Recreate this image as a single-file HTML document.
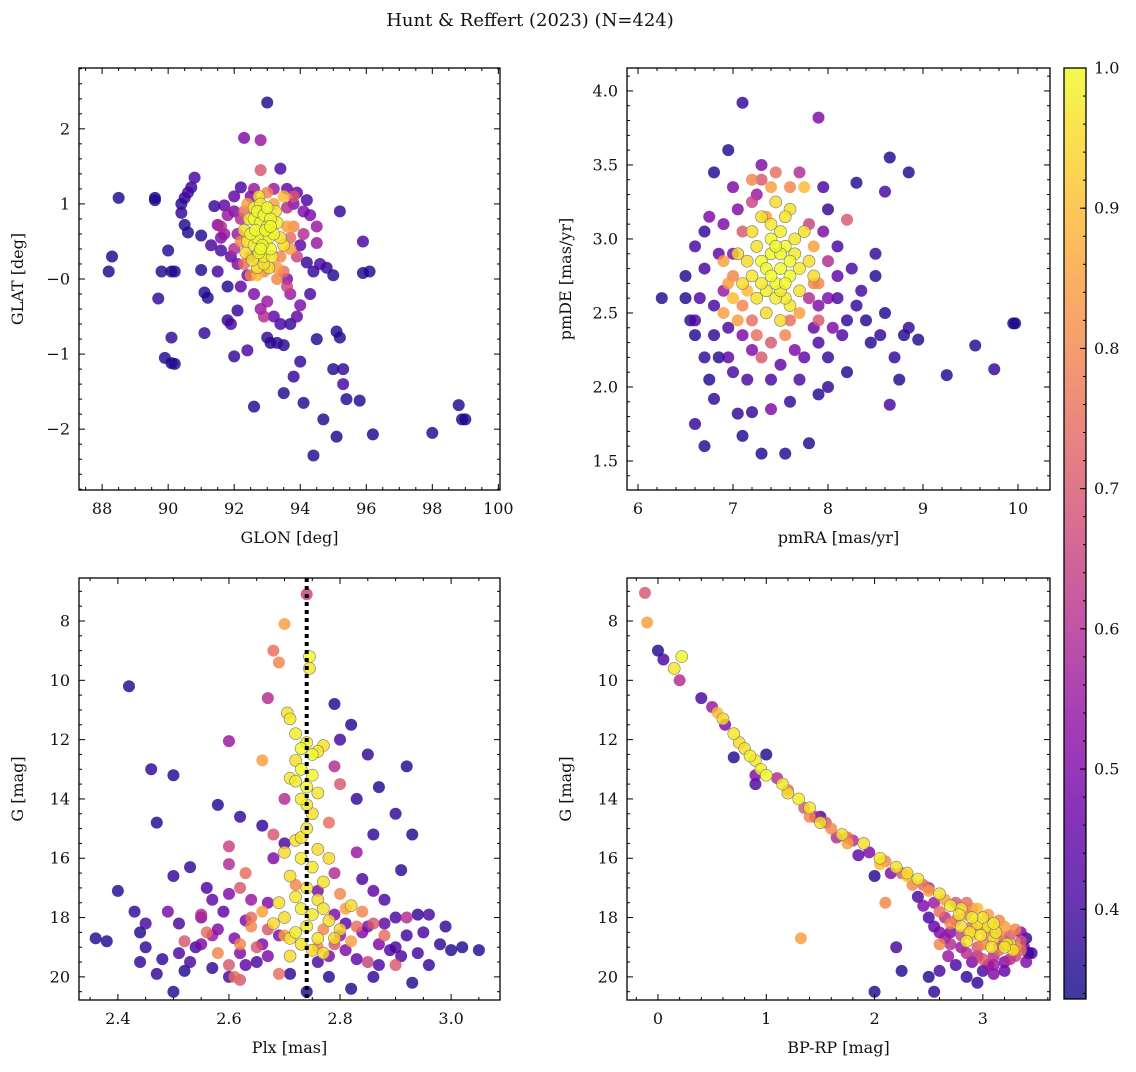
<!DOCTYPE html>
<html><head><meta charset="utf-8"><style>
body{margin:0;background:#fff}
svg text{font-family:"DejaVu Serif","Liberation Serif",serif;fill:#111}
</style></head><body>
<svg id="fig" width="1136" height="1067" viewBox="0 0 1136 1067" xmlns="http://www.w3.org/2000/svg">
<defs><linearGradient id="cbg" x1="0" y1="1" x2="0" y2="0">
<stop offset="0" stop-color="#0d0887"/><stop offset="0.1" stop-color="#41049d"/><stop offset="0.2" stop-color="#6a00a8"/><stop offset="0.3" stop-color="#8f0da4"/><stop offset="0.4" stop-color="#b12a90"/><stop offset="0.5" stop-color="#cc4778"/><stop offset="0.6" stop-color="#e16462"/><stop offset="0.7" stop-color="#f2844b"/><stop offset="0.8" stop-color="#fca636"/><stop offset="0.9" stop-color="#fcce25"/><stop offset="1" stop-color="#f0f921"/>
</linearGradient></defs>
<text x="530" y="26" font-size="18" text-anchor="middle">Hunt &amp; Reffert (2023) (N=424)</text>
</svg>
<script>
// ---- data (value triples: x, y, membership probability) ----
const glonGlat = [
[88.2,0.1,0.35],[88.3,0.3,0.35],[88.5,1.08,0.35],[89.6,1.08,0.35],[89.6,1.05,0.36],[89.7,-0.26,0.38],[89.8,0.1,0.36],[89.9,-1.05,0.36],[90.1,-1.12,0.35],[90.2,-1.13,0.36],[90.1,-0.78,0.38],[90.0,0.38,0.36],[90.1,0.1,0.35],[90.2,0.1,0.36],[90.4,0.88,0.38],[90.4,1.0,0.36],[90.5,1.08,0.38],[90.6,1.15,0.41],[90.5,0.72,0.36],[90.6,0.62,0.36],[90.7,1.22,0.38],[90.8,1.35,0.41],[91.0,0.58,0.36],[91.0,0.12,0.36],[91.1,-0.72,0.38],[91.1,-0.18,0.36],[91.2,-0.25,0.36],[91.3,0.45,0.41],[91.4,0.97,0.38],[91.5,0.72,0.5],[91.6,0.55,0.5],[91.6,0.38,0.41],[91.7,0.98,0.45],[91.8,-0.1,0.36],[91.8,-0.55,0.38],[91.9,-0.6,0.41],[92.0,-1.03,0.38],[92.1,-0.42,0.38],[92.1,0.2,0.5],[92.2,1.22,0.41],[92.3,1.88,0.5],[92.4,-0.95,0.41],[92.6,-1.7,0.36],[92.8,1.85,0.55],[93.0,2.35,0.36],[93.4,1.47,0.41],[93.6,1.2,0.45],[93.8,1.0,0.5],[94.2,1.05,0.41],[94.3,0.85,0.5],[94.5,0.48,0.55],[94.2,0.22,0.38],[94.4,0.1,0.38],[94.6,0.2,0.41],[94.8,0.15,0.38],[95.0,0.05,0.36],[95.2,0.9,0.38],[95.9,0.5,0.41],[95.9,0.08,0.36],[96.1,0.1,0.36],[93.0,-0.78,0.38],[93.1,-0.85,0.36],[93.3,-0.85,0.38],[93.5,-0.88,0.36],[93.4,-0.6,0.41],[93.7,-0.6,0.38],[93.8,-1.3,0.38],[93.5,-1.52,0.36],[94.0,-1.1,0.38],[94.1,-1.65,0.36],[94.5,-0.8,0.36],[94.4,-2.35,0.36],[94.7,-1.87,0.36],[95.1,-2.1,0.35],[95.1,-0.7,0.36],[95.2,-0.78,0.36],[95.0,-1.2,0.36],[95.3,-1.2,0.38],[95.3,-1.4,0.41],[95.4,-1.6,0.36],[95.8,-1.62,0.36],[96.2,-2.07,0.35],[98.0,-2.05,0.36],[98.8,-1.68,0.36],[98.9,-1.87,0.35],[99.0,-1.87,0.35],[94.0,-0.35,0.5],[93.7,-0.2,0.55],[92.4,0.05,0.5],[94.3,-0.2,0.41],[92.8,-0.4,0.55],
[91.9,0.3,0.45],[92.0,0.9,0.5],[91.7,0.6,0.55],[92.5,1.1,0.5],[93.9,1.15,0.45],[94.0,0.45,0.45],[93.6,0.0,0.5],[92.6,-0.2,0.5],[93.2,-0.5,0.45],[94.1,0.9,0.5],[92.2,-0.1,0.45],[91.5,0.1,0.4],[93.9,-0.5,0.45],[92.0,1.1,0.45],
[92.2,0.8,0.6],[92.6,1.2,0.55],[92.8,1.45,0.7],[93.6,0.95,0.6],[92.5,0.3,0.7],[93.9,0.3,0.65],[93.8,0.7,0.8],[92.1,0.6,0.55],[94.1,0.6,0.6],[93.2,1.2,0.55],[92.9,0.1,0.8],[93.5,0.1,0.75],[93.0,-0.3,0.55],[92.9,-0.5,0.6],[92.3,0.9,0.75],[93.7,0.4,0.85],[92.7,0.05,0.9],[93.3,0.0,0.8],[92.0,0.4,0.6],[94.5,0.7,0.55],[93.6,-0.1,0.65],[91.6,0.7,0.6],[91.8,0.85,0.55],[92.4,1.0,0.85],[93.5,1.1,0.9],[93.4,0.3,0.8],[92.3,0.2,0.75],[93.8,1.1,0.7],[93.2,1.0,0.85],[93.6,0.7,0.85],[92.2,0.5,0.8],[93.3,0.15,0.85],[92.5,0.05,0.8],[93.0,1.15,0.8],[93.7,0.55,0.75],
[92.6,0.8,1],[92.7,0.9,1],[92.8,0.75,1],[92.9,0.85,1],[93.0,0.7,1],[93.1,0.8,1],[92.85,0.6,1],[92.95,0.5,1],[93.05,0.55,1],[92.7,0.55,1],[92.6,0.45,0.98],[92.75,0.35,1],[92.9,0.3,0.97],[93.1,0.4,1],[93.2,0.6,1],[93.3,0.75,0.98],[92.5,0.6,1],[92.4,0.5,0.97],[92.55,0.25,0.96],[92.7,0.15,0.95],[92.85,0.45,1],[93.0,0.95,1],[92.8,1.0,0.98],[92.65,0.65,1],[93.15,0.3,0.97],[93.4,0.55,0.96],[92.45,0.8,0.97],[92.35,0.35,0.95],[92.9,0.2,0.96],[93.05,0.15,0.95],[92.6,0.95,0.97],[93.25,0.9,0.96],[92.75,1.1,0.95],[93.5,0.45,0.95],[92.3,0.65,0.96],[92.95,0.65,1],[92.8,0.4,1],[93.1,0.7,1]];
const pmraPmde = [
[6.25,2.6,0.36],[6.5,2.6,0.36],[6.6,1.75,0.38],[6.7,1.6,0.36],[6.6,2.35,0.36],[6.7,2.2,0.38],[6.75,2.05,0.36],[6.8,1.92,0.38],[6.5,2.75,0.36],[6.6,2.95,0.41],[6.7,3.05,0.38],[6.75,3.15,0.5],[6.8,2.55,0.41],[6.85,2.2,0.36],[6.8,3.45,0.36],[6.95,3.6,0.36],[7.1,3.92,0.38],[7.0,3.35,0.5],[7.05,1.82,0.38],[7.1,1.67,0.36],[7.15,2.05,0.41],[7.2,1.83,0.38],[7.3,1.55,0.36],[7.4,1.85,0.5],[7.55,1.55,0.36],[7.8,1.62,0.36],[7.7,2.05,0.41],[7.6,1.9,0.38],[7.9,1.95,0.36],[7.9,2.3,0.41],[8.0,2.2,0.38],[8.05,2.4,0.5],[8.1,2.6,0.41],[8.2,2.45,0.38],[8.2,2.1,0.36],[8.3,2.55,0.38],[8.3,3.38,0.36],[8.45,2.3,0.36],[8.5,2.9,0.38],[8.5,2.75,0.36],[8.6,2.5,0.36],[8.6,3.32,0.41],[8.65,3.55,0.36],[8.7,2.2,0.38],[8.75,2.05,0.36],[8.65,1.88,0.41],[8.8,2.35,0.36],[8.85,2.4,0.38],[8.85,3.45,0.36],[8.95,2.32,0.36],[9.25,2.08,0.36],[9.55,2.28,0.36],[9.75,2.12,0.38],[9.95,2.43,0.35],[9.97,2.43,0.35],[7.9,3.82,0.5],[7.95,3.35,0.41],[8.0,3.2,0.38],[8.1,2.95,0.41],[7.9,2.55,0.5],[7.0,2.1,0.41],[7.2,2.25,0.5],[7.4,2.05,0.41],[8.4,2.45,0.36],[8.55,2.35,0.38],[6.6,2.45,0.41],[6.9,2.65,0.55],[7.0,2.9,0.5],[6.95,2.4,0.41],[7.65,2.25,0.5],[7.25,3.3,0.55],[6.7,2.8,0.41],[6.55,2.45,0.38],[7.05,3.2,0.5],[8.25,2.8,0.41],[6.8,2.35,0.38],[8.0,2.0,0.38],
[6.85,2.9,0.45],[6.9,3.1,0.5],[7.1,2.35,0.5],[7.5,2.15,0.45],[7.85,2.4,0.45],[8.0,2.6,0.5],[8.1,2.75,0.45],[7.95,3.05,0.5],[7.3,3.5,0.5],[6.95,2.2,0.45],[8.35,2.65,0.4],[6.65,2.6,0.42],[7.75,2.2,0.45],[8.15,2.35,0.42],
[7.0,2.75,0.8],[7.1,3.05,0.7],[6.9,2.85,0.85],[7.2,2.45,0.75],[7.4,2.3,0.7],[7.6,2.45,0.75],[7.8,2.6,0.6],[7.85,2.7,0.8],[8.0,2.85,0.6],[7.3,3.4,0.7],[7.45,3.45,0.75],[7.2,3.25,0.65],[7.7,3.45,0.6],[7.55,2.35,0.8],[6.9,2.5,0.85],[7.3,2.2,0.7],[7.8,3.1,0.65],[8.2,3.13,0.7],[7.75,3.35,0.9],[7.0,2.6,0.9],[7.35,3.15,0.85],[7.1,2.55,0.8],[7.9,2.45,0.7],[7.6,3.35,0.8],[7.25,2.35,0.75],[7.05,2.45,0.85],[7.15,2.65,0.9],[7.85,2.95,0.85],[7.7,2.5,0.85],[7.4,3.35,0.85],[7.2,3.4,0.8],[6.95,2.7,0.85],[7.9,2.7,0.8],
[7.3,2.85,1],[7.4,2.9,1],[7.5,2.8,1],[7.6,2.75,1],[7.45,2.7,1],[7.35,2.65,0.98],[7.55,2.95,1],[7.65,2.9,0.97],[7.2,2.75,0.97],[7.25,2.95,0.96],[7.5,3.05,0.98],[7.4,3.1,0.97],[7.6,3.2,0.96],[7.45,3.25,0.95],[7.7,2.65,0.96],[7.55,2.6,0.98],[7.35,2.5,0.95],[7.25,2.6,0.96],[7.15,2.85,0.95],[7.1,2.7,0.95],[7.65,3.0,0.97],[7.8,2.85,0.96],[7.5,2.45,0.95],[7.4,3.0,1],[7.3,3.15,0.96],[7.55,2.7,1],[7.7,2.8,0.98],[7.6,2.55,0.97],[7.2,3.05,0.95],[7.75,3.05,0.96],[7.35,2.8,1],[7.45,2.6,0.98],[7.05,2.9,0.95],[7.85,2.75,0.95],[7.5,2.9,1],[7.4,2.75,1],[7.6,2.85,1],[7.3,2.7,0.98],[7.5,2.65,0.98],[7.45,2.95,1],[7.55,3.15,0.97]];
const plxG = [
[2.36,18.7,0.36],[2.4,17.1,0.36],[2.42,10.2,0.36],[2.43,17.8,0.38],[2.44,18.5,0.36],[2.45,19.0,0.38],[2.46,13.0,0.38],[2.47,14.8,0.36],[2.48,19.4,0.38],[2.49,17.8,0.5],[2.5,13.2,0.36],[2.5,16.6,0.38],[2.5,20.5,0.36],[2.51,18.2,0.41],[2.52,19.8,0.36],[2.53,16.3,0.38],[2.54,19.0,0.41],[2.55,18.0,0.5],[2.56,17.0,0.41],[2.57,19.7,0.38],[2.58,14.2,0.36],[2.58,18.4,0.5],[2.6,17.2,0.5],[2.6,20.0,0.41],[2.62,14.6,0.38],[2.63,18.1,0.5],[2.65,19.5,0.41],[2.66,14.9,0.38],[2.67,17.5,0.5],[2.7,15.5,0.41],[2.71,19.9,0.38],[2.76,19.5,0.41],[2.78,20.0,0.36],[2.79,10.8,0.36],[2.8,12.0,0.41],[2.81,19.1,0.5],[2.82,11.5,0.36],[2.82,20.4,0.36],[2.83,14.0,0.38],[2.84,16.7,0.41],[2.85,12.5,0.38],[2.86,15.2,0.38],[2.87,13.6,0.36],[2.88,17.4,0.41],[2.89,19.1,0.41],[2.9,14.5,0.38],[2.9,18.0,0.41],[2.91,16.4,0.38],[2.92,12.9,0.36],[2.93,15.2,0.36],[2.94,17.9,0.38],[2.95,18.5,0.41],[2.96,19.6,0.38],[2.98,18.9,0.38],[3.0,19.1,0.36],[3.02,19.0,0.36],[3.05,19.1,0.36],[2.93,20.2,0.36],[2.87,19.6,0.41],[2.74,20.5,0.36],[2.44,19.5,0.38],[2.38,18.8,0.36],[2.55,18.9,0.5],[2.47,19.9,0.38],[2.62,19.2,0.5],[2.85,18.3,0.5],[2.96,17.9,0.41],[2.76,17.1,0.5],[2.68,16.0,0.5],[2.91,19.3,0.41],[2.86,20.0,0.38],[2.53,19.5,0.41],[2.45,18.2,0.41],[2.57,18.6,0.55],[2.64,17.4,0.55],[2.8,18.6,0.55],[2.87,18.9,0.5],[2.99,18.3,0.38],
[2.59,17.8,0.45],[2.61,18.7,0.5],[2.63,19.6,0.45],[2.66,18.9,0.5],[2.79,17.9,0.5],[2.81,18.2,0.45],[2.83,19.4,0.45],[2.84,18.5,0.5],[2.88,18.2,0.45],[2.9,19.0,0.42],[2.92,18.6,0.4],[2.67,19.3,0.5],[2.57,17.4,0.45],[2.78,19.3,0.5],[2.69,18.6,0.5],[2.86,17.1,0.45],[2.51,19.2,0.42],[2.94,19.2,0.4],
[2.70,8.1,0.85],[2.69,9.4,0.8],[2.68,9.0,0.75],[2.74,7.1,0.65],[2.67,10.6,0.6],[2.66,12.7,0.85],[2.6,12.05,0.55],[2.6,15.6,0.65],[2.6,16.2,0.6],[2.62,17.0,0.7],[2.63,16.5,0.75],[2.64,18.3,0.8],[2.65,19.0,0.7],[2.6,19.6,0.7],[2.61,20.0,0.75],[2.62,20.1,0.7],[2.69,19.9,0.75],[2.7,14.0,0.6],[2.68,15.2,0.7],[2.78,14.8,0.75],[2.79,16.5,0.6],[2.8,17.2,0.8],[2.82,18.8,0.85],[2.84,17.8,0.8],[2.86,18.2,0.7],[2.85,19.5,0.65],[2.88,18.6,0.75],[2.9,19.6,0.7],[2.56,18.5,0.75],[2.58,19.2,0.8],[2.66,17.8,0.85],[2.8,13.5,0.7],[2.79,12.9,0.6],[2.83,15.8,0.55],[2.55,17.9,0.6],[2.52,18.8,0.7],[2.92,18.0,0.6],[2.77,18.4,0.8],[2.7,18.6,0.85],[2.72,16.9,0.8],[2.64,18.0,0.75],[2.67,18.4,0.7],[2.81,17.7,0.85],[2.83,18.3,0.75],[2.76,19.0,0.8],[2.62,18.9,0.8],[2.79,18.9,0.7],
[2.745,9.2,1],[2.745,9.6,0.97],[2.705,11.1,0.96],[2.71,11.3,0.97],[2.72,11.8,0.98],[2.73,12.3,1],[2.74,12.1,0.98],[2.75,12.5,1],[2.76,12.4,0.97],[2.72,12.7,0.96],[2.73,13.0,1],[2.75,13.2,1],[2.72,13.4,0.98],[2.74,13.6,1],[2.76,13.8,0.97],[2.73,14.0,0.98],[2.75,14.5,0.96],[2.74,15.0,0.97],[2.72,15.4,0.96],[2.76,15.7,0.95],[2.73,16.0,0.98],[2.75,16.3,0.97],[2.71,16.6,0.95],[2.77,16.8,0.96],[2.74,17.0,0.98],[2.72,17.3,0.97],[2.76,17.4,0.96],[2.73,17.7,0.98],[2.75,17.9,0.97],[2.70,18.0,0.95],[2.78,18.1,0.96],[2.74,18.3,0.98],[2.72,18.5,0.97],[2.76,18.7,0.96],[2.73,18.9,0.96],[2.75,19.1,0.95],[2.71,19.3,0.95],[2.77,19.2,0.95],[2.80,18.4,0.95],[2.68,18.2,0.95],[2.82,17.6,0.95],[2.69,17.5,0.96],[2.78,16.0,0.95],[2.70,15.8,0.95],[2.77,12.2,0.96],[2.71,13.3,0.97],[2.79,18.7,0.95],[2.77,17.7,0.96],[2.71,18.7,0.96],[2.74,14.2,0.97],[2.73,15.3,0.96]];
const bprpG = [
[-0.12,7.05,0.7],[-0.1,8.05,0.85],[0.0,9.0,0.36],[0.05,9.3,0.41],[0.15,9.6,0.97],[0.22,9.2,1],[0.2,10.0,0.6],[0.4,10.6,0.41],[0.55,11.1,0.9],[0.6,11.3,0.95],[0.62,11.5,0.5],[0.7,11.8,0.97],[0.75,12.1,0.95],[0.8,12.3,0.96],[0.85,12.55,0.98],[0.9,12.7,0.97],[0.95,13.0,0.98],[1.0,13.2,1],[0.7,12.6,0.36],[0.9,13.5,0.41],[1.1,13.3,0.6],[1.15,13.5,0.97],[1.2,13.8,0.96],[1.3,14.0,0.98],[1.35,14.3,0.7],[1.4,14.3,0.97],[1.45,14.6,0.6],[1.5,14.8,0.96],[1.55,14.8,0.7],[1.6,15.0,0.8],[1.7,15.2,0.96],[1.75,15.3,0.75],[1.8,15.4,0.6],[1.9,15.5,0.95],[1.95,15.8,0.5],[2.05,16.0,0.97],[2.1,16.1,0.8],[2.2,16.3,0.96],[2.25,16.5,0.7],[2.3,16.6,0.9],[2.4,16.7,0.97],[2.45,16.9,0.75],[2.5,17.0,0.6],[2.6,17.2,0.96],[2.65,17.4,0.85],[2.7,17.6,0.97],[2.75,17.5,0.7],[2.8,17.7,0.96],[2.85,17.9,0.8],[2.9,18.0,0.97],[2.95,18.2,0.96],[3.0,18.4,0.85],[3.05,18.3,0.96],[3.1,18.7,0.95],[3.15,18.6,0.8],[3.2,18.8,0.7],[3.25,18.9,0.95],[3.3,19.0,0.85],[3.35,19.1,0.75],[3.4,18.7,0.38],[3.42,19.2,0.36],[1.32,18.7,0.85],[2.1,17.5,0.8],[2.2,19.0,0.41],[2.0,20.5,0.36],[2.5,20.0,0.36],[2.55,20.5,0.38],[2.6,19.8,0.41],[2.25,19.8,0.36],[1.0,12.5,0.36],[1.5,14.6,0.41],[2.0,16.6,0.36],[2.4,17.3,0.41],[2.7,18.5,0.5],[2.8,19.0,0.55],[2.9,19.5,0.5],[3.0,19.8,0.41],[3.1,19.3,0.6],[3.2,19.5,0.5],[2.75,19.6,0.41],[2.85,20.0,0.38],[2.95,19.0,0.7],[3.0,18.9,0.8],[3.05,19.6,0.55],[3.15,19.1,0.75],[3.25,19.4,0.6],[3.3,18.4,0.8],[2.65,18.0,0.6],[2.55,17.5,0.55],[2.9,18.6,0.9],[2.8,18.3,0.95],[3.1,18.2,0.97],[2.7,18.9,0.6],[3.35,18.5,0.5],[2.6,18.5,0.5],[2.95,17.7,0.9],[2.85,17.5,0.75],[3.2,18.3,0.85],[2.45,17.6,0.5],[2.35,16.9,0.8],[2.15,16.5,0.5],[1.85,15.9,0.45],[1.65,15.3,0.6],[2.5,18.0,0.41],[3.4,19.5,0.5],[2.95,20.2,0.38],[3.1,19.9,0.5],[2.68,19.3,0.55],[3.0,18.0,0.96],[2.85,18.8,0.97],[3.2,19.0,0.96],[2.6,18.9,0.8],
[2.75,18.1,0.7],[2.9,18.3,0.75],[3.05,18.6,0.8],[3.15,18.9,0.65],[3.25,18.6,0.7],[2.95,19.3,0.6],[3.1,19.6,0.55],[2.8,18.6,0.65],[3.0,19.4,0.7],[3.3,19.3,0.65],[2.7,18.2,0.8],[2.6,17.8,0.75],[3.05,17.9,0.85],[3.15,18.1,0.8],[2.85,19.2,0.6],[3.35,18.8,0.7],[2.65,18.7,0.55],[2.9,17.7,0.8],[2.55,18.3,0.45],[3.2,19.8,0.45],[2.98,18.6,0.97],[3.12,18.5,0.96],[2.88,18.5,0.96],[3.22,18.9,0.95],[2.78,17.9,0.96],[3.28,19.1,0.95],[3.08,19.0,0.96],[2.05,16.2,0.9],[1.75,15.5,0.85],[1.4,14.6,0.8],[1.2,13.7,0.75],[2.5,17.1,0.85],[2.3,16.5,0.95],[0.5,10.9,0.55],[0.9,13.2,0.5],[3.38,19.0,0.45],[3.45,19.2,0.4]];
const cbarTicks = [0.4,0.5,0.6,0.7,0.8,0.9,1.0];
const vlinePlx = 2.74;

// ---- helpers ----
const NS="http://www.w3.org/2000/svg";
const svg=document.getElementById('fig');
const CMIN=0.336, CMAX=1.0;
const stops=["#0d0887","#41049d","#6a00a8","#8f0da4","#b12a90","#cc4778","#e16462","#f2844b","#fca636","#fcce25","#f0f921"];
function hex(h){return [1,3,5].map(i=>parseInt(h.substr(i,2),16));}
function cmap(p){let t=(p-CMIN)/(CMAX-CMIN);t=Math.max(0,Math.min(1,t))*10;const i=Math.min(9,Math.floor(t)),f=t-i;const a=hex(stops[i]),b=hex(stops[i+1]);return 'rgb('+a.map((v,k)=>Math.round(v+(b[k]-v)*f)).join(',')+')';}
function mk(tag,attrs,parent){const e=document.createElementNS(NS,tag);for(const k in attrs)e.setAttribute(k,attrs[k]);(parent||svg).appendChild(e);return e;}
function fmt(v,d){return v<0?'\u2212'+Math.abs(v).toFixed(d):v.toFixed(d);}

function panel(c){
  const g=mk('g',{});
  
  
  const sx=v=>c.L+(v-c.x0)/(c.x1-c.x0)*(c.R-c.L);
  const sy=v=>c.B-(v-c.y0)/(c.y1-c.y0)*(c.B-c.T);
  const clip='clip-'+c.name;
  const cp=mk('clipPath',{id:clip},g);mk('rect',{x:c.L,y:c.T,width:c.R-c.L,height:c.B-c.T},cp);
  const pg=mk('g',{'clip-path':'url(#'+clip+')'},g);
  const data=c.data.slice().sort((a,b)=>a[2]-b[2]);
  for(const d of data){
    const hi=d[2]>0.93;
    const el=mk('circle',{cx:sx(d[0]),cy:sy(d[1]),r:6,fill:cmap(d[2]),'fill-opacity':0.82,stroke:hi?'#777':'none','stroke-width':0.6},pg);
    
    
  }
  if(c.vline!==undefined){
    const l=mk('line',{x1:sx(c.vline),x2:sx(c.vline),y1:c.T,y2:c.B,stroke:'#000','stroke-width':4,'stroke-dasharray':'4,4'},pg);
    
    
  }
  const fr=mk('rect',{x:c.L,y:c.T,width:c.R-c.L,height:c.B-c.T,fill:'none',stroke:'#000','stroke-width':1.3},g);
  
  
  const lo=Math.min(c.x0,c.x1),hi=Math.max(c.x0,c.x1);
  for(let v=Math.ceil(lo/c.xmin-1e-6)*c.xmin;v<=hi+1e-9;v+=c.xmin){
    const x=sx(v);const maj=Math.abs(v/c.xmaj-Math.round(v/c.xmaj))<1e-6;const len=maj?6:3;
    mk('line',{x1:x,x2:x,y1:c.B,y2:c.B-len,stroke:'#000','stroke-width':1},g);
    mk('line',{x1:x,x2:x,y1:c.T,y2:c.T+len,stroke:'#000','stroke-width':1},g);
    if(maj){const t=mk('text',{x:x,y:c.B+24,'font-size':16,'text-anchor':'middle'},g);t.textContent=fmt(v,c.xd);}
  }
  const ylo=Math.min(c.y0,c.y1),yhi=Math.max(c.y0,c.y1);
  for(let v=Math.ceil(ylo/c.ymin-1e-6)*c.ymin;v<=yhi+1e-9;v+=c.ymin){
    const y=sy(v);const maj=Math.abs(v/c.ymaj-Math.round(v/c.ymaj))<1e-6;const len=maj?6:3;
    mk('line',{x1:c.L,x2:c.L+len,y1:y,y2:y,stroke:'#000','stroke-width':1},g);
    mk('line',{x1:c.R,x2:c.R-len,y1:y,y2:y,stroke:'#000','stroke-width':1},g);
    if(maj){const t=mk('text',{x:c.L-9,y:y+5.5,'font-size':16,'text-anchor':'end'},g);t.textContent=fmt(v,c.yd);}
  }
  const xl=mk('text',{x:(c.L+c.R)/2,y:c.B+53,'font-size':16,'text-anchor':'middle'},g);xl.textContent=c.xl;
  
  const yx=c.L-(c.ylOff||52), yy=(c.T+c.B)/2;
  const yl=mk('text',{x:yx,y:yy,'font-size':16,'text-anchor':'middle',transform:'rotate(-90 '+yx+' '+yy+')'},g);yl.textContent=c.yl;
  
}

panel({name:'glon-glat-panel',data:glonGlat,L:79,R:500,T:68,B:490,x0:87.3,x1:100.05,y0:-2.81,y1:2.81,xmaj:2,xmin:0.5,ymaj:1,ymin:0.2,xd:0,yd:0,xl:'GLON [deg]',yl:'GLAT [deg]',ylOff:56});
panel({name:'pm-panel',data:pmraPmde,L:627,R:1050,T:68,B:490,x0:5.884,x1:10.337,y0:1.304,y1:4.155,xmaj:1,xmin:0.2,ymaj:0.5,ymin:0.1,xd:0,yd:1,xl:'pmRA [mas/yr]',yl:'pmDE [mas/yr]',ylOff:56});
panel({name:'plx-g-panel',data:plxG,vline:vlinePlx,L:79,R:500,T:578,B:1000,x0:2.33,x1:3.088,y0:20.78,y1:6.55,xmaj:0.2,xmin:0.05,ymaj:2,ymin:0.5,xd:1,yd:0,xl:'Plx [mas]',yl:'G [mag]',ylOff:56});
panel({name:'cmd-panel',data:bprpG,L:627,R:1050,T:578,B:1000,x0:-0.286,x1:3.62,y0:20.78,y1:6.55,xmaj:1,xmin:0.2,ymaj:2,ymin:0.5,xd:0,yd:0,xl:'BP-RP [mag]',yl:'G [mag]',ylOff:56});

// colorbar
(function(){
  const L=1064,R=1086,T=68,B=999;
  const cg=mk('g',{});
  
  
  mk('rect',{x:L,y:T,width:R-L,height:B-T,fill:'url(#cbg)','fill-opacity':0.8},cg);
  mk('rect',{x:L,y:T,width:R-L,height:B-T,fill:'none',stroke:'#000','stroke-width':1.3},cg);
  const sy=v=>B-(v-CMIN)/(CMAX-CMIN)*(B-T);
  for(let v=0.34;v<=1.0001;v+=0.02){const y=sy(v);mk('line',{x1:R,x2:R-3,y1:y,y2:y,stroke:'#000','stroke-width':1},cg);}
  for(const v of cbarTicks){const y=sy(v);mk('line',{x1:R,x2:R-6,y1:y,y2:y,stroke:'#000','stroke-width':1},cg);
    const t=mk('text',{x:R+8,y:y+5.5,'font-size':16},cg);t.textContent=v.toFixed(1);
    }
})();
</script>
</body></html>
